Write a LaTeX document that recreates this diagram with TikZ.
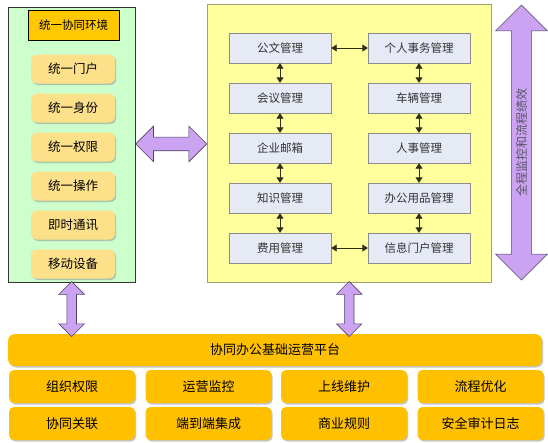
\documentclass[tikz,border=0pt]{standalone}
\usepackage{fontspec}
\setmainfont{Noto Sans CJK SC}
\usetikzlibrary{arrows.meta,positioning,shapes.arrows,shadows,calc}

\definecolor{mint}{HTML}{CCFFCC}
\definecolor{paleyellow}{HTML}{FFFF9E}
\definecolor{gold}{HTML}{FFC000}
\definecolor{headgold}{HTML}{FFC800}
\definecolor{lightgold}{HTML}{FDE08A}
\definecolor{boxfill}{HTML}{E5EAF5}
\definecolor{boxline}{HTML}{8C8C8C}
\definecolor{frameline}{HTML}{A0A070}
\definecolor{lilac}{HTML}{CCA3F2}
\definecolor{lilacline}{HTML}{4F4460}
\definecolor{linkcol}{HTML}{2E2E18}
\definecolor{modtext}{HTML}{333333}
\definecolor{vtext}{HTML}{555566}

\begin{document}
\begin{tikzpicture}[x=1pt,y=-1pt,
  side/.style={rounded corners=6pt,fill=lightgold,minimum width=84pt,minimum height=29pt,
    font=\fontsize{12.5}{14}\selectfont,
    drop shadow={shadow xshift=1.2pt,shadow yshift=-1.5pt,fill=black!45,opacity=.5}},
  mod/.style={draw=boxline,fill=boxfill,minimum width=102pt,minimum height=30pt,
    text=modtext,font=\fontsize{11.5}{13}\selectfont},
  base/.style={rounded corners=5pt,fill=gold,minimum width=126pt,minimum height=33pt,
    font=\fontsize{13}{15}\selectfont,
    drop shadow={shadow xshift=1.2pt,shadow yshift=-1.5pt,fill=black!45,opacity=.5}},
  link/.style={{Triangle[length=5.5pt,width=7pt]}-{Triangle[length=5.5pt,width=7pt]},
    draw=linkcol,line width=0.9pt},
  fat/.style={double arrow,draw=lilacline,fill=lilac,line width=0.6pt,
    double arrow head extend=#1}]

\useasboundingbox [fill=white] (0,0) rectangle (548,442);

% panels
\node [draw=black!80,fill=mint,minimum width=127pt,minimum height=275pt,anchor=north west] (env) at (8,7) {};
\node [draw=frameline,fill=paleyellow,minimum width=284pt,minimum height=278pt,anchor=north west] (frame) at (207,4) {};

\node [draw,fill=headgold,minimum width=91pt,minimum height=30pt,font=\fontsize{11.5}{13}\selectfont] (head) at (73.5,25) {统一协同环境};

\begin{scope}[node distance=39pt]
\node [side] (portal) at (73,69) {统一门户};
\node [side] (ident) [below of=portal] {统一身份};
\node [side] (right) [below of=ident] {统一权限};
\node [side] (oper) [below of=right] {统一操作};
\node [side] (chat) [below of=oper] {即时通讯};
\node [side] (mobile) [below of=chat] {移动设备};
\end{scope}

\begin{scope}[node distance=50pt]
\node [mod] (doc) at (280,48) {公文管理};
\node [mod] (meet) [below of=doc] {会议管理};
\node [mod] (mail) [below of=meet] {企业邮箱};
\node [mod] (know) [below of=mail] {知识管理};
\node [mod] (cost) [below of=know] {费用管理};
\node [mod] (pers) at (419,48) {个人事务管理};
\node [mod] (car) [below of=pers] {车辆管理};
\node [mod] (hr) [below of=car] {人事管理};
\node [mod] (supply) [below of=hr] {办公用品管理};
\node [mod] (infoport) [below of=supply] {信息门户管理};
\end{scope}

\draw [link] (doc) -- (pers);
\draw [link] (cost) -- (infoport);
\draw [link] (doc) -- (meet);
\draw [link] (meet) -- (mail);
\draw [link] (mail) -- (know);
\draw [link] (know) -- (cost);
\draw [link] (pers) -- (car);
\draw [link] (car) -- (hr);
\draw [link] (hr) -- (supply);
\draw [link] (supply) -- (infoport);

% platform
\node [base,minimum width=534pt,minimum height=32pt,rounded corners=7pt] (plat) at (275,350) {协同办公基础运营平台};
\begin{scope}[node distance=37pt]
\node [base] (org) at (72,386.5) {组织权限};
\node [base] (rel) [below of=org] {协同关联};
\node [base] (watch) at (208.5,386.5) {运营监控};
\node [base] (integ) [below of=watch] {端到端集成};
\node [base] (upkeep) at (344,386.5) {上线维护};
\node [base] (rule) [below of=upkeep] {商业规则};
\node [base] (flow) at (480.5,386.5) {流程优化};
\node [base] (audit) [below of=flow] {安全审计日志};
\end{scope}

% fat arrows
\node [fat=11pt,inner xsep=0pt,inner ysep=6.5pt,minimum height=71pt] (envlink) at ($(env.east)!.5!(frame.west)$) {};
\node [fat=8pt,rotate=90,inner xsep=0pt,inner ysep=4.5pt,minimum height=55pt] (envplat) at ($(env.south)!.5!(env.south |- plat.north)+(0,1)$) {};
\node [fat=8pt,rotate=90,inner xsep=0pt,inner ysep=4.5pt,minimum height=55pt] (frameplat) at ($(frame.south)!.5!(frame.south |- plat.north)+(0,1)$) {};
\node [fat=16pt,rotate=90,inner xsep=0pt,inner ysep=4pt,minimum height=275pt,text=vtext,font=\fontsize{12}{12}\selectfont] (track) at (521.5,142.5) {全程监控和流程绩效};

\end{tikzpicture}
\end{document}
